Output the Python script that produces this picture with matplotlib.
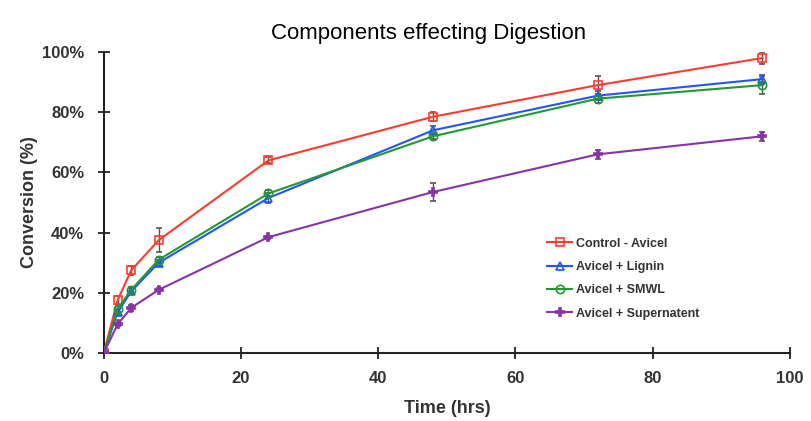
import matplotlib
matplotlib.use("Agg")
import matplotlib.pyplot as plt
from matplotlib.ticker import FuncFormatter
from matplotlib.lines import Line2D

time = [0, 2, 4, 8, 24, 48, 72, 96]
control = [0, 17.5, 27.5, 37.5, 64, 78.5, 89, 98]
control_err = [0, 1.5, 1.5, 4, 1, 1.5, 3, 2]
lignin = [0, 13.5, 20.5, 30, 51.5, 74, 85.5, 91]
lignin_err = [0, 1, 1, 1, 1.5, 1.5, 1.5, 1.5]
smwl = [0, 14.5, 21, 31, 53, 72, 84.5, 89]
smwl_err = [0, 1, 1, 1, 1, 1, 1.5, 3]
super_ = [0, 9.5, 15, 21, 38.5, 53.5, 66, 72]
super_err = [0, 0.5, 1, 0.5, 0.5, 3, 1.5, 1.5]

labels = ["Control - Avicel", "Avicel + Lignin", "Avicel + SMWL", "Avicel + Supernatent"]
colors = ["#ff3b30", "#2255ff", "#229933", "#8833aa"]
markers = ["s", "^", "o", "P"]

plt.rcParams['font.family'] = ['Liberation Sans', 'DejaVu Sans']
fig = plt.figure(figsize=(8.11, 4.21), dpi=100)
ax = fig.add_axes([0.128, 0.1615, 0.846, 0.715])

handles = []
for y, e, lab, c, m in zip([control, lignin, smwl, super_],
                           [control_err, lignin_err, smwl_err, super_err],
                           labels, colors, markers):
    mfc = 'none' if m != 'P' else c
    ax.errorbar(time, y, yerr=e, color=c, marker=m, markersize=6,
                markerfacecolor=mfc, markeredgewidth=1.2,
                linewidth=1.5, ecolor='#555555', elinewidth=1, capsize=2,
                zorder=3)
    handles.append(Line2D([], [], color=c, marker=m, markersize=6,
                          markerfacecolor=mfc, markeredgewidth=1.2,
                          linewidth=1.5, label=lab))

ax.set_xlim(0, 100)
ax.set_ylim(0, 100)
ax.set_xticks([0, 20, 40, 60, 80, 100])
ax.set_yticks([0, 20, 40, 60, 80, 100])
ax.yaxis.set_major_formatter(FuncFormatter(lambda v, p: f"{int(v)}%"))
for s in ['top', 'right']:
    ax.spines[s].set_visible(False)
for s in ['left', 'bottom']:
    ax.spines[s].set_linewidth(1.5)
    ax.spines[s].set_color('#222222')
ax.tick_params(direction='inout', length=8, width=1.3, colors='#222222', labelsize=12)
ax.tick_params(axis='x', pad=9)
ax.tick_params(axis='y', pad=10)
for t in ax.get_xticklabels() + ax.get_yticklabels():
    t.set_fontweight('bold')
    t.set_color('#333333')
ax.set_xlabel("Time (hrs)", fontsize=13, fontweight='bold', color='#333333', labelpad=10)
ax.set_ylabel("Conversion (%)", fontsize=13, fontweight='bold', color='#333333', labelpad=3)
fig.text(0.528, 0.945, "Components effecting Digestion", ha='center', va='top', fontsize=16)

leg = ax.legend(handles=handles, loc='upper left', bbox_to_anchor=(0.63, 0.42), frameon=False,
                prop={'weight': 'bold', 'size': 9}, handlelength=2, labelspacing=0.9,
                handletextpad=0.3)
for t in leg.get_texts():
    t.set_color('#333333')

fig.savefig("out.png", dpi=100)
